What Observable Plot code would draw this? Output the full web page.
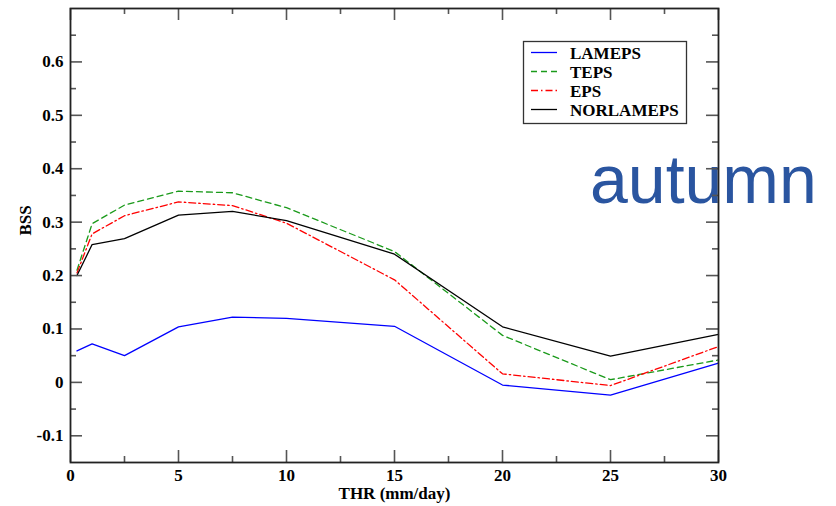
<!DOCTYPE html>
<html><head><meta charset="utf-8">
<script src="https://cdn.jsdelivr.net/npm/d3@7"></script>
<script src="https://cdn.jsdelivr.net/npm/@observablehq/plot@0.6"></script>
<style>
body{margin:0;background:#fff;}
#wrap{position:relative;width:836px;height:506px;}
#wrap svg.layer{position:absolute;left:0;top:0;}
#chart{position:absolute;left:0;top:0;z-index:1;}
#chart svg text, #legend text{font-family:"Liberation Serif","Times New Roman",Times,serif !important;font-weight:bold !important;font-size:17px !important;}
</style>
</head><body>
<div id="wrap">
<svg class="layer" width="836" height="506" style="z-index:0">
  <text x="590" y="202.5" font-family="Liberation Sans, Arial, sans-serif" font-size="68" fill="#2a55a0">autumn</text>
</svg>
<div id="chart"></div>
<svg class="layer" id="legend" width="836" height="506" style="z-index:2;pointer-events:none"></svg>
</div>
<script>
const thr = [0.3, 1, 2.5, 5, 7.5, 10, 15, 20, 25, 30];
const lameps    = [0.059, 0.072, 0.050, 0.104, 0.122, 0.120, 0.105, -0.005, -0.024, 0.036];
const teps      = [0.210, 0.297, 0.332, 0.358, 0.355, 0.327, 0.245, 0.088, 0.005, 0.042];
const eps       = [0.205, 0.278, 0.312, 0.338, 0.331, 0.298, 0.192, 0.016, -0.006, 0.067];
const norlameps = [0.200, 0.258, 0.269, 0.313, 0.320, 0.303, 0.240, 0.104, 0.049, 0.090];

const seriesNames = ["LAMEPS", "TEPS", "EPS", "NORLAMEPS"];
const seriesValues = [lameps, teps, eps, norlameps];
const seriesColors = ["#0000ff", "#1a9a1a", "#ff0000", "#000000"];
const seriesDash = [null, "6,4", "7,3,1.5,3", null];

const xMajor = [0, 5, 10, 15, 20, 25, 30];
const xMinor = [2.5, 7.5, 12.5, 17.5, 22.5, 27.5];
const yMajor = [-0.1, 0, 0.1, 0.2, 0.3, 0.4, 0.5, 0.6];
const yMinor = [-0.05, 0.05, 0.15, 0.25, 0.35, 0.45, 0.55, 0.65];

const W = 836, H = 506, ML = 70, MR = 118, MT = 8, MB = 44;
const iw = W - ML - MR, ih = H - MT - MB;
const tickC = "#555", tickW = 1.6;
const FONT = "Liberation Serif, Times New Roman, serif";

const lineMarks = seriesNames.map((name, i) =>
  Plot.line(thr.map((t, j) => ({x: t, y: seriesValues[i][j]})), {
    x: "x", y: "y", stroke: seriesColors[i], strokeWidth: 1.3,
    strokeDasharray: seriesDash[i] || undefined
  })
);

const tickMarks = [
  Plot.tickY(yMajor, {y: d => d, insetRight: iw - 12, stroke: tickC, strokeWidth: tickW}),
  Plot.tickY(yMinor, {y: d => d, insetRight: iw - 6, stroke: tickC, strokeWidth: tickW}),
  Plot.tickY(yMajor, {y: d => d, insetLeft: iw - 12, stroke: tickC, strokeWidth: tickW}),
  Plot.tickY(yMinor, {y: d => d, insetLeft: iw - 6, stroke: tickC, strokeWidth: tickW}),
  Plot.tickX(xMajor, {x: d => d, insetTop: ih - 12, stroke: tickC, strokeWidth: tickW}),
  Plot.tickX(xMinor, {x: d => d, insetTop: ih - 6, stroke: tickC, strokeWidth: tickW}),
  Plot.tickX(xMajor, {x: d => d, insetBottom: ih - 12, stroke: tickC, strokeWidth: tickW}),
  Plot.tickX(xMinor, {x: d => d, insetBottom: ih - 6, stroke: tickC, strokeWidth: tickW})
];

const chart = Plot.plot({
  width: W, height: H, marginLeft: ML, marginRight: MR, marginTop: MT, marginBottom: MB,
  x: {domain: [0, 30]},
  y: {domain: [-0.15, 0.7]},
  style: {background: "transparent", color: "#000"},
  marks: [
    ...lineMarks,
    ...tickMarks,
    Plot.frame({stroke: "#222", strokeWidth: 1.8}),
    Plot.axisX({ticks: xMajor, tickSize: 0, tickPadding: 6, label: null, fontSize: 17, fontWeight: "bold", fontFamily: FONT, tickFormat: d => String(d)}),
    Plot.axisY({ticks: yMajor, tickSize: 0, tickPadding: 7, label: null, fontSize: 17, fontWeight: "bold", fontFamily: FONT, tickFormat: d => d === 0 ? "0" : d3.format(".1f")(d).replace("−", "-")}),
    Plot.text(["THR (mm/day)"], {text: d => d, frameAnchor: "bottom", dy: 31, lineAnchor: "middle", fontSize: 17, fontWeight: "bold", fontFamily: FONT}),
    Plot.text(["BSS"], {text: d => d, frameAnchor: "left", dx: -45, rotate: -90, lineAnchor: "middle", fontSize: 17, fontWeight: "bold", fontFamily: FONT})
  ]
});
document.getElementById("chart").appendChild(chart);

// legend
const leg = d3.select("#legend");
leg.append("rect").attr("x", 523.5).attr("y", 41.5).attr("width", 163).attr("height", 82)
  .attr("fill", "#fff").attr("stroke", "#333").attr("stroke-width", 1.3);
seriesNames.forEach((name, i) => {
  const ly = 52.5 + i * 19;
  leg.append("line").attr("x1", 531).attr("x2", 557).attr("y1", ly).attr("y2", ly)
    .attr("stroke", seriesColors[i]).attr("stroke-width", 1.3)
    .attr("stroke-dasharray", seriesDash[i]);
  leg.append("text").attr("x", 570).attr("y", ly + 6.5).text(name);
});
</script>
</body></html>
